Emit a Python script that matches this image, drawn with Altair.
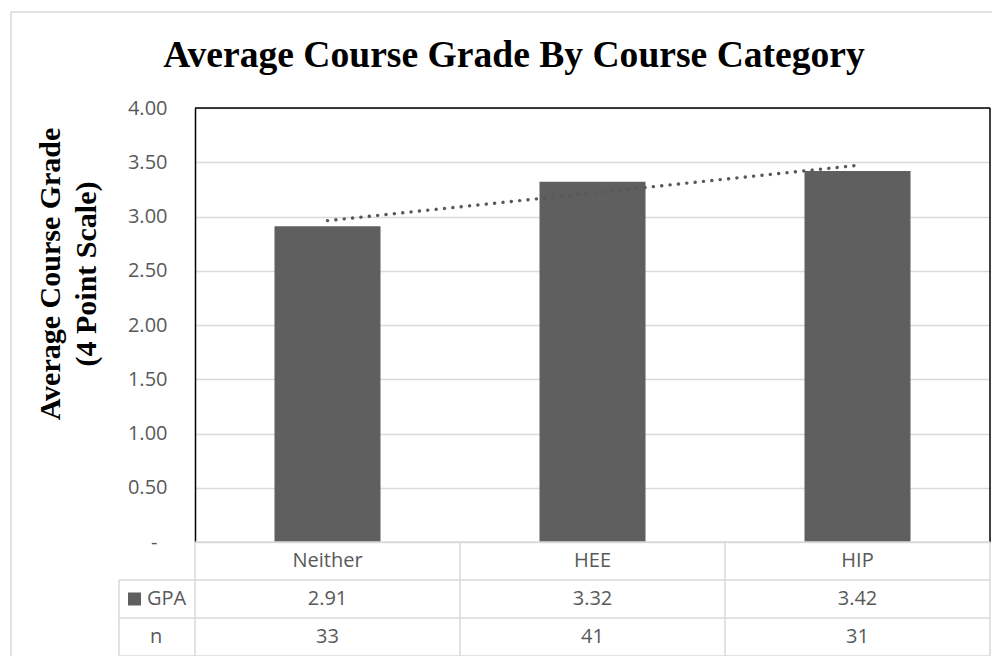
import altair as alt
import numpy as np
import pandas as pd

# ---- data ----
categories = ["Neither", "HEE", "HIP"]
gpa = [2.91, 3.32, 3.42]
n_counts = [33, 41, 31]
row_labels = ["GPA", "n"]
y_ticks = [0, 0.5, 1.0, 1.5, 2.0, 2.5, 3.0, 3.5, 4.0]
title_text = "Average Course Grade By Course Category"
y_title = ["Average Course Grade", "(4 Point Scale)"]

# linear trendline (as Excel's) fitted to the GPA values
idx = np.arange(1, len(gpa) + 1)
slope, intercept = np.polyfit(idx, gpa, 1)
trend = list(slope * idx + intercept)

df = pd.DataFrame({"cat": categories, "gpa": gpa, "n": n_counts, "trend": trend})
one = pd.DataFrame({"k": [0]})

W, H = 795, 434
PAD = {"left": 187, "top": 100, "right": 2, "bottom": 114}
BAR = "#5f5f5f"
TXT = "#595959"
GRID = "#d9d9d9"
SANS = "Open Sans"
SERIF = "Liberation Serif"
FS = 20

xenc = alt.X("cat:N", sort=categories,
             scale=alt.Scale(paddingInner=0.6, paddingOuter=0.3), axis=None)
yscale = alt.Scale(domain=[0, 4], nice=False)

yaxis = alt.Axis(
    values=y_ticks, grid=True, gridColor=GRID, gridWidth=1.5,
    domainColor="black", domainWidth=1.5, ticks=False,
    labelFont=SANS, labelFontSize=FS, labelColor=TXT,
    labelPadding={"condition": {"test": "datum.value == 0", "value": 38}, "value": 28},
    labelExpr="datum.value == 0 ? '-' : format(datum.value, '.2f')",
    title=None,
)


def rule(x1, y1, x2, y2, color=GRID, w=1.5):
    return alt.Chart(one).mark_rule(color=color, strokeWidth=w).encode(
        x=alt.value(x1), x2=alt.value(x2), y=alt.value(y1), y2=alt.value(y2))


# outer chart-area frame (kept inside the drawing so the page never scrolls)
outer = [rule(-184, -96, W + PAD["right"], -96),
         rule(-184, -96, -184, H + PAD["bottom"])]

bars = alt.Chart(df).mark_bar(color=BAR).encode(
    x=xenc, y=alt.Y("gpa:Q", scale=yscale, axis=yaxis))

trendline = alt.Chart(df).mark_line(
    color=TXT, strokeWidth=3.4, strokeDash=[0.1, 8.3], strokeCap="round"
).encode(x=xenc, y=alt.Y("trend:Q", scale=yscale))

borders = [rule(0, 0, W, 0, "black"), rule(W, 0, W, H, "black")]

step = W / 3
R1, R2, TB = 472, 510, 548  # data-table row lines
table_lines = [
    rule(0, H, W, H),
    rule(-76, R1, W, R1),
    rule(-76, R2, W, R2),
    rule(-76, TB, W, TB),
    rule(-76, R1, -76, TB),
    rule(0, H + 1, 0, TB),
    rule(step, H, step, TB),
    rule(2 * step, H, 2 * step, TB),
    rule(W, H, W, TB),
]
yc0, yc1, yc2 = (H + R1) / 2, (R1 + R2) / 2, (R2 + TB) / 2

txt_kw = dict(font=SANS, fontSize=FS, color=TXT, baseline="middle")
cat_text = alt.Chart(df).mark_text(**txt_kw).encode(
    x=xenc, y=alt.value(yc0), text="cat:N")
gpa_text = alt.Chart(df).mark_text(**txt_kw).encode(
    x=xenc, y=alt.value(yc1), text=alt.Text("gpa:Q", format=".2f"))
n_text = alt.Chart(df).mark_text(**txt_kw).encode(
    x=xenc, y=alt.value(yc2), text=alt.Text("n:Q"))

legend_sq = alt.Chart(one).mark_square(color=BAR, size=169, opacity=1).encode(
    x=alt.value(-60.5), y=alt.value(yc1))
hdr_gpa = alt.Chart(one).mark_text(align="left", **txt_kw).encode(
    x=alt.value(-48), y=alt.value(yc1), text=alt.value(row_labels[0]))
hdr_n = alt.Chart(one).mark_text(align="center", **txt_kw).encode(
    x=alt.value(-39), y=alt.value(yc2), text=alt.value(row_labels[1]))

title_mark = alt.Chart(one).mark_text(
    font=SERIF, fontSize=37.6, fontWeight="bold", color="black",
    align="center", baseline="alphabetic"
).encode(x=alt.value(319), y=alt.value(-41), text=alt.value(title_text))

ytitle_mark = alt.Chart(one).mark_text(
    font=SERIF, fontSize=30, fontWeight="bold", color="black",
    align="center", baseline="middle", angle=270, lineHeight=36
).encode(x=alt.value(-144), y=alt.value(166), text=alt.value(y_title))

chart = alt.layer(
    *outer, bars, trendline, *borders, *table_lines,
    cat_text, gpa_text, n_text, legend_sq, hdr_gpa, hdr_n,
    title_mark, ytitle_mark,
).properties(
    width=W, height=H,
    autosize=alt.AutoSizeParams(type="none"),
    padding=PAD,
    background="white",
).configure_view(stroke="transparent")

chart.save("out.html", embed_options={"renderer": "svg", "actions": False})
